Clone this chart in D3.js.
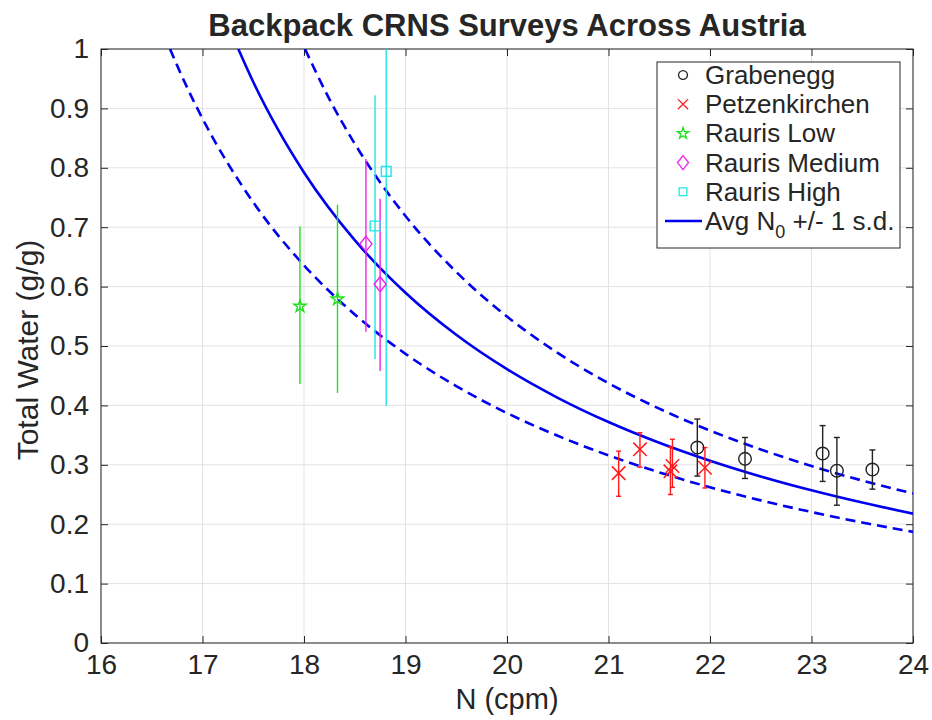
<!DOCTYPE html>
<html><head><meta charset="utf-8">
<script src="https://cdn.jsdelivr.net/npm/d3@7"></script>
<style>
html,body{margin:0;padding:0;background:#fff;}
text{font-family:"Liberation Sans",Arial,Helvetica,sans-serif;fill:#262626;}
</style></head>
<body><svg id="c" width="932" height="720"></svg>
<script>
// ---------- data ----------
const xTickValues = [16, 17, 18, 19, 20, 21, 22, 23, 24];
const yTickValues = [0, 0.1, 0.2, 0.3, 0.4, 0.5, 0.6, 0.7, 0.8, 0.9, 1];
const yTickLabels = ["0", "0.1", "0.2", "0.3", "0.4", "0.5", "0.6", "0.7", "0.8", "0.9", "1"];

const grabN  = [21.875, 22.345, 23.11, 23.25, 23.60];
const grabW  = [0.329, 0.310, 0.319, 0.290, 0.292];
const grabLo = [0.281, 0.277, 0.272, 0.232, 0.259];
const grabHi = [0.377, 0.346, 0.366, 0.346, 0.325];

const petzN  = [21.10, 21.31, 21.61, 21.63, 21.95];
const petzW  = [0.286, 0.326, 0.289, 0.298, 0.295];
const petzLo = [0.247, 0.296, 0.250, 0.262, 0.261];
const petzHi = [0.323, 0.354, 0.330, 0.343, 0.329];

const lowN  = [17.96, 18.33];
const lowW  = [0.567, 0.579];
const lowLo = [0.436, 0.421];
const lowHi = [0.701, 0.738];

const medN  = [18.61, 18.75];
const medW  = [0.672, 0.604];
const medLo = [0.524, 0.458];
const medHi = [0.815, 0.748];

const highN  = [18.70, 18.81];
const highW  = [0.702, 0.794];
const highLo = [0.478, 0.399];
const highHi = [0.922, 1.189];

// calibration curves (Avg N0 and +/- 1 s.d.)
const avgCurveN = [17.353, 17.5, 17.75, 18, 18.5, 19, 19.5, 20, 20.5, 21, 21.5, 22, 22.5, 23, 23.5, 24];
const avgCurveW = [1.0, 0.9445, 0.8625, 0.7922, 0.6782, 0.5896, 0.5188, 0.4609, 0.4128, 0.3720, 0.3371, 0.3069, 0.2804, 0.2571, 0.2364, 0.2178];
const upCurveN  = [18.01, 18.25, 18.5, 19, 19.5, 20, 20.5, 21, 21.5, 22, 22.5, 23, 23.5, 24];
const upCurveW  = [1.0, 0.9157, 0.8405, 0.7188, 0.6247, 0.5496, 0.4883, 0.4374, 0.3945, 0.3577, 0.3259, 0.2980, 0.2735, 0.2518];
const loCurveN  = [16.68, 16.85, 17, 17.5, 18, 18.5, 19, 19.5, 20, 20.5, 21, 21.5, 22, 22.5, 23, 23.5, 24];
const loCurveW  = [1.0, 0.9346, 0.8829, 0.7419, 0.6358, 0.5531, 0.4868, 0.4325, 0.3871, 0.3488, 0.3158, 0.2873, 0.2622, 0.2401, 0.2205, 0.2029, 0.1870];

const legendLabels = ["Grabenegg", "Petzenkirchen", "Rauris Low", "Rauris Medium", "Rauris High"];

// ---------- layout ----------
const L = 101, R = 913, T = 49, B = 643;
const svg = d3.select("#c");
const x = d3.scaleLinear().domain([16, 24]).range([L, R]);
const y = d3.scaleLinear().domain([0, 1]).range([B, T]);

const axisCol = "#262626";
const blue = "#0000f0";
const cRed = "#ff1a1a", cGreen = "#1ee01e", cMag = "#ee22ee", cCyan = "#22e6e6", cBlack = "#222";

// grid
const grid = svg.append("g");
grid.selectAll("line.gx").data(xTickValues).join("line")
  .attr("x1", d => x(d)).attr("x2", d => x(d)).attr("y1", T).attr("y2", B)
  .attr("stroke", "#e3e3e3").attr("stroke-width", 1);
grid.selectAll("line.gy").data(yTickValues).join("line")
  .attr("y1", d => y(d)).attr("y2", d => y(d)).attr("x1", L).attr("x2", R)
  .attr("stroke", "#e3e3e3").attr("stroke-width", 1);

// axes (ticks inward, box on)
const fs = 28;
const ax = svg.append("g").attr("transform", `translate(0,${B})`)
  .call(d3.axisBottom(x).tickValues(xTickValues).tickSize(-7).tickPadding(11).tickFormat(d3.format("d")));
const ay = svg.append("g").attr("transform", `translate(${L},0)`)
  .call(d3.axisLeft(y).tickValues(yTickValues).tickSize(-7).tickPadding(12).tickFormat((d, i) => yTickLabels[i]));
const axT = svg.append("g").attr("transform", `translate(0,${T})`)
  .call(d3.axisTop(x).tickValues(xTickValues).tickSize(-7).tickFormat(""));
const ayR = svg.append("g").attr("transform", `translate(${R},0)`)
  .call(d3.axisRight(y).tickValues(yTickValues).tickSize(-7).tickFormat(""));
[ax, ay, axT, ayR].forEach(g => {
  g.select(".domain").remove();
  g.selectAll("line").attr("stroke", axisCol);
  g.selectAll("text").attr("font-size", fs).attr("fill", axisCol)
    .style("font-family", '"Liberation Sans",Arial,sans-serif');
});
svg.append("rect").attr("x", L).attr("y", T).attr("width", R - L).attr("height", B - T)
  .attr("fill", "none").attr("stroke", axisCol).attr("stroke-width", 1);

// clip
svg.append("clipPath").attr("id", "clip").append("rect")
  .attr("x", L).attr("y", T).attr("width", R - L).attr("height", B - T);
const plot = svg.append("g").attr("clip-path", "url(#clip)");

// curves
const line = d3.line().x(d => x(d[0])).y(d => y(d[1])).curve(d3.curveMonotoneX);
function curve(ns, ws, dash) {
  plot.append("path").datum(ns.map((n, i) => [n, ws[i]]))
    .attr("d", line).attr("fill", "none").attr("stroke", blue).attr("stroke-width", 2.6)
    .attr("stroke-dasharray", dash || null);
}
curve(avgCurveN, avgCurveW);
curve(upCurveN, upCurveW, "10,6");
curve(loCurveN, loCurveW, "10,6");

// error bars + markers
function errbars(ns, ws, lo, hi, col, cap) {
  const g = plot.append("g").attr("stroke", col).attr("stroke-width", 1.4).attr("fill", "none");
  ns.forEach((n, i) => {
    g.append("line").attr("x1", x(n)).attr("x2", x(n)).attr("y1", y(lo[i])).attr("y2", y(hi[i]));
    if (cap) {
      [lo[i], hi[i]].forEach(v => g.append("line").attr("x1", x(n) - cap).attr("x2", x(n) + cap)
        .attr("y1", y(v)).attr("y2", y(v)));
    }
  });
}
const sym = {
  circle: d3.symbol().type(d3.symbolCircle).size(Math.PI * 40),
  cross: d3.symbol().type(d3.symbolX).size(120),
  star: d3.symbol().type(d3.symbolStar).size(48),
  diamond: "M0,-7.5L6,0L0,7.5L-6,0Z",
  square: d3.symbol().type(d3.symbolSquare).size(95)
};
function markers(ns, ws, col, shape, sw) {
  const g = plot.append("g");
  ns.forEach((n, i) => {
    const s = sym[shape];
    g.append("path").attr("transform", `translate(${x(n)},${y(ws[i])})`)
      .attr("d", typeof s === "string" ? s : s())
      .attr("fill", "none").attr("stroke", col).attr("stroke-width", sw || 1.4);
  });
}
errbars(lowN, lowW, lowLo, lowHi, cGreen, 0);
errbars(medN, medW, medLo, medHi, cMag, 0);
errbars(highN, highW, highLo, highHi, cCyan, 0);
errbars(petzN, petzW, petzLo, petzHi, cRed, 2.5);
errbars(grabN, grabW, grabLo, grabHi, cBlack, 3);
markers(lowN, lowW, cGreen, "star");
markers(medN, medW, cMag, "diamond");
markers(highN, highW, cCyan, "square");
markers(petzN, petzW, cRed, "cross", 1.5);
markers(grabN, grabW, cBlack, "circle", 1.4);

// title and labels
svg.append("text").attr("x", (L + R) / 2).attr("y", 36).attr("text-anchor", "middle")
  .attr("font-size", 31).attr("font-weight", "bold").attr("fill", "#000")
  .text("Backpack CRNS Surveys Across Austria");
svg.append("text").attr("x", (L + R) / 2).attr("y", 709).attr("text-anchor", "middle")
  .attr("font-size", 29).text("N (cpm)");
svg.append("text").attr("transform", `translate(38,${(T + B) / 2 + 4}) rotate(-90)`)
  .attr("text-anchor", "middle").attr("font-size", 30).text("Total Water (g/g)");

// legend
const lg = svg.append("g");
lg.append("rect").attr("x", 657).attr("y", 62).attr("width", 243).attr("height", 186)
  .attr("fill", "#fff").attr("stroke", axisCol).attr("stroke-width", 1);
const rowY = i => 75 + i * 29.2;
const legendSpec = [
  [cBlack, "circle"], [cRed, "cross"], [cGreen, "star"], [cMag, "diamond"], [cCyan, "square"]
];
const legSym = {
  circle: d3.symbol().type(d3.symbolCircle).size(Math.PI * 20)(),
  cross: d3.symbol().type(d3.symbolX).size(70)(),
  star: d3.symbol().type(d3.symbolStar).size(40)(),
  diamond: "M0,-7L5.5,0L0,7L-5.5,0Z",
  square: d3.symbol().type(d3.symbolSquare).size(60)()
};
legendLabels.forEach((lab, i) => {
  lg.append("path").attr("transform", `translate(683,${rowY(i)})`).attr("d", legSym[legendSpec[i][1]])
    .attr("fill", "none").attr("stroke", legendSpec[i][0]).attr("stroke-width", 1.3);
  lg.append("text").attr("x", 705).attr("y", rowY(i) + 9).attr("font-size", 26).attr("fill", "#000").text(lab);
});
lg.append("line").attr("x1", 665).attr("x2", 702).attr("y1", rowY(5)).attr("y2", rowY(5))
  .attr("stroke", blue).attr("stroke-width", 2.6);
const t6 = lg.append("text").attr("x", 705).attr("y", rowY(5) + 9).attr("font-size", 26).attr("fill", "#000");
t6.append("tspan").text("Avg N");
t6.append("tspan").attr("font-size", 18).attr("dy", 8).text("0");
t6.append("tspan").attr("dy", -8).text(" +/- 1 s.d.");
</script></body></html>
